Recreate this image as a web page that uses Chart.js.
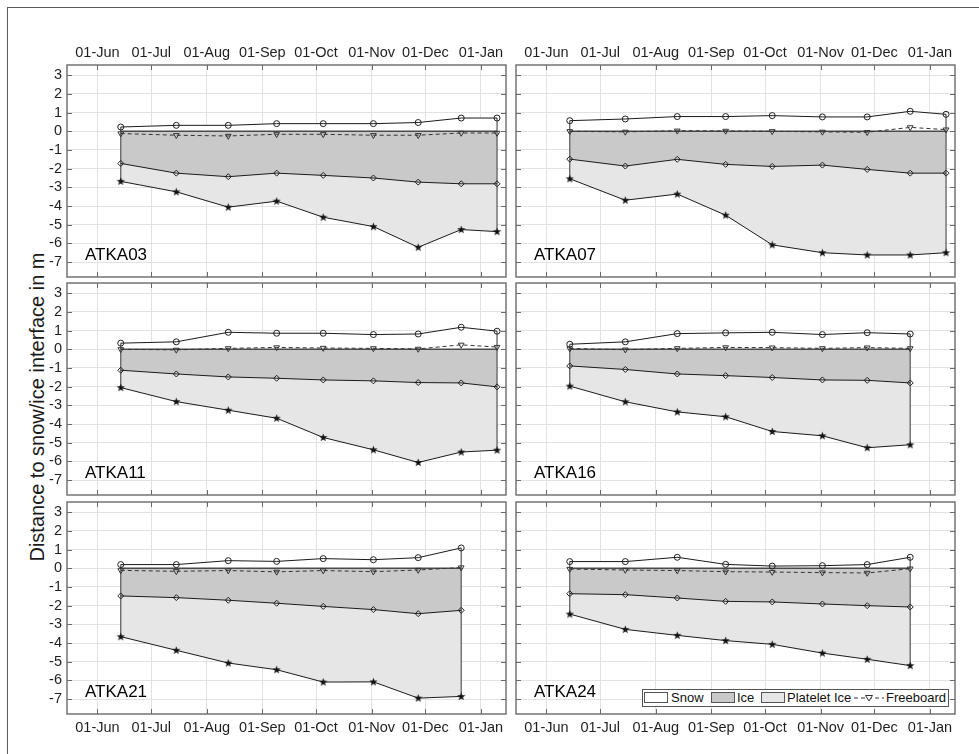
<!DOCTYPE html>
<html>
<head>
<meta charset="utf-8">
<script src="https://cdn.jsdelivr.net/npm/chart.js@4.4.0/dist/chart.umd.min.js"></script>
<style>
  body{margin:0;background:#fff;width:979px;height:754px;overflow:hidden;position:relative;
       font-family:'Liberation Sans',Arial,Helvetica,sans-serif;color:#1a1a1a;}
  canvas{position:absolute;}
  #frame{position:absolute;left:7px;top:7px;width:1000px;height:800px;border:1px solid #5a5a5a;box-sizing:border-box;}
  #ytitle{position:absolute;left:37px;top:407px;transform:translate(-50%,-50%) rotate(-90deg);
          font-size:20px;white-space:nowrap;color:#1a1a1a;}
  #legend{position:absolute;left:642px;top:689px;width:307px;height:18px;border:1px solid #555;
          background:#fff;box-sizing:border-box;z-index:5;font-size:13px;}
  #legend .sw{position:absolute;top:2px;width:24px;height:11px;border:1px solid #555;box-sizing:border-box;}
  #legend .tx{position:absolute;top:0;line-height:16px;white-space:nowrap;color:#111;}
  #legend svg{position:absolute;top:0;}
</style>
</head>
<body>
<div id="frame"></div>
<div id="ytitle">Distance to snow/ice interface in m</div>
<div id="legend">
  <div class="sw" style="left:1px;background:#fff"></div><div class="tx" style="left:28px">Snow</div>
  <div class="sw" style="left:68px;background:#c9c9c9"></div><div class="tx" style="left:94px">Ice</div>
  <div class="sw" style="left:118px;background:#e6e6e6"></div><div class="tx" style="left:144px">Platelet Ice</div>
  <svg style="left:210px" width="32" height="16" viewBox="0 0 32 16">
    <line x1="1" y1="8" x2="31" y2="8" stroke="#333" stroke-width="1" stroke-dasharray="4,3"/>
    <polygon points="12.5,5.5 19.5,5.5 16,11" fill="#fff" stroke="#333" stroke-width="1"/>
  </svg>
  <div class="tx" style="left:243px">Freeboard</div>
</div>
<script>
// ---------------- data ----------------
const obsDates = ['2012-06-14','2012-07-15','2012-08-13','2012-09-09','2012-10-05',
                  '2012-11-02','2012-11-27','2012-12-21','2013-01-10'];
const tickDates  = ['2012-06-01','2012-07-01','2012-08-01','2012-09-01','2012-10-01','2012-11-01','2012-12-01','2013-01-01'];
const tickLabels = ['01-Jun','01-Jul','01-Aug','01-Sep','01-Oct','01-Nov','01-Dec','01-Jan'];
const yTicks = [-7,-6,-5,-4,-3,-2,-1,0,1,2,3];
const axisStart = '2012-05-15', axisEnd = '2013-01-15';
const yMin = -7.8, yMax = 3.55;

const panelNames = ['ATKA03','ATKA07','ATKA11','ATKA16','ATKA21','ATKA24'];

const snow03 = [0.23,0.32,0.32,0.41,0.41,0.41,0.47,0.71,0.71];
const fb03   = [-0.12,-0.21,-0.25,-0.16,-0.16,-0.21,-0.21,-0.09,-0.09];
const ice03  = [-1.72,-2.24,-2.43,-2.24,-2.36,-2.50,-2.72,-2.81,-2.81];
const plat03 = [-2.68,-3.24,-4.06,-3.74,-4.60,-5.10,-6.21,-5.26,-5.37];

const snow07 = [0.57,0.66,0.79,0.79,0.84,0.77,0.77,1.07,0.91];
const fb07   = [0.00,-0.03,0.03,0.02,0.00,-0.03,-0.05,0.21,0.09];
const ice07  = [-1.49,-1.86,-1.50,-1.77,-1.88,-1.81,-2.04,-2.24,-2.24];
const plat07 = [-2.54,-3.69,-3.36,-4.49,-6.08,-6.50,-6.62,-6.62,-6.50];

const snow11 = [0.33,0.40,0.91,0.86,0.86,0.79,0.82,1.18,0.97];
const fb11   = [0.00,-0.03,0.05,0.10,0.07,0.05,0.02,0.24,0.12];
const ice11  = [-1.12,-1.32,-1.48,-1.55,-1.64,-1.69,-1.78,-1.80,-2.01];
const plat11 = [-2.05,-2.80,-3.26,-3.69,-4.72,-5.38,-6.06,-5.50,-5.40];

const snow16 = [0.27,0.40,0.84,0.88,0.91,0.79,0.89,0.82];
const fb16   = [0.04,-0.02,0.05,0.10,0.09,0.05,0.09,0.05];
const ice16  = [-0.89,-1.08,-1.32,-1.41,-1.51,-1.64,-1.66,-1.80];
const plat16 = [-1.97,-2.81,-3.35,-3.61,-4.40,-4.63,-5.27,-5.11];

const snow21 = [0.20,0.20,0.41,0.37,0.52,0.46,0.57,1.09];
const fb21   = [-0.11,-0.16,-0.12,-0.19,-0.12,-0.18,-0.09,0.04];
const ice21  = [-1.48,-1.57,-1.71,-1.87,-2.04,-2.21,-2.43,-2.25];
const plat21 = [-3.66,-4.39,-5.07,-5.43,-6.09,-6.08,-6.95,-6.86];

const snow24 = [0.36,0.36,0.59,0.21,0.12,0.14,0.20,0.59];
const fb24   = [-0.04,-0.09,-0.12,-0.18,-0.20,-0.23,-0.25,-0.02];
const ice24  = [-1.36,-1.41,-1.59,-1.77,-1.80,-1.91,-2.00,-2.07];
const plat24 = [-2.45,-3.27,-3.59,-3.87,-4.07,-4.54,-4.87,-5.21];

const panels = [
  {name: panelNames[0], snow: snow03, fb: fb03, ice: ice03, plat: plat03},
  {name: panelNames[1], snow: snow07, fb: fb07, ice: ice07, plat: plat07},
  {name: panelNames[2], snow: snow11, fb: fb11, ice: ice11, plat: plat11},
  {name: panelNames[3], snow: snow16, fb: fb16, ice: ice16, plat: plat16},
  {name: panelNames[4], snow: snow21, fb: fb21, ice: ice21, plat: plat21},
  {name: panelNames[5], snow: snow24, fb: fb24, ice: ice24, plat: plat24},
];

// ---------------- helpers ----------------
const ref = Date.parse('2012-06-01T00:00:00Z');
const dayOf = d => Math.round((Date.parse(d + 'T00:00:00Z') - ref) / 86400000);
const tickDays = tickDates.map(dayOf);

const FONT = "'Liberation Sans', Arial, Helvetica, sans-serif";
Chart.defaults.font.family = FONT;
Chart.defaults.font.size = 14.5;
Chart.defaults.color = '#1f1f1f';

// filled pentagram marker
const starImg = document.createElement('canvas');
starImg.width = 9; starImg.height = 9;
(function(){
  const c = starImg.getContext('2d');
  c.beginPath();
  for (let i = 0; i < 10; i++) {
    const r = i % 2 ? 1.8 : 4.3;
    const a = -Math.PI / 2 + i * Math.PI / 5;
    c.lineTo(4.5 + r * Math.cos(a), 4.7 + r * Math.sin(a));
  }
  c.closePath(); c.fillStyle = '#111'; c.fill();
})();

const deco = {
  id: 'deco',
  afterDraw(chart, args, opts) {
    const {ctx, chartArea: a, scales: {x, y}} = chart;
    ctx.save();
    ctx.strokeStyle = '#6a6a6a';
    ctx.lineWidth = 1;
    ctx.beginPath();
    x.ticks.forEach(t => {
      const px = Math.round(x.getPixelForValue(t.value)) + 0.5;
      ctx.moveTo(px, a.top); ctx.lineTo(px, a.top + 5);
      ctx.moveTo(px, a.bottom); ctx.lineTo(px, a.bottom - 5);
    });
    y.ticks.forEach(t => {
      const py = Math.round(y.getPixelForValue(t.value)) + 0.5;
      ctx.moveTo(a.left, py); ctx.lineTo(a.left + 5, py);
      ctx.moveTo(a.right, py); ctx.lineTo(a.right - 5, py);
    });
    ctx.stroke();
    ctx.lineWidth = 1.4;
    ctx.strokeStyle = '#6a6a6a';
    ctx.strokeRect(a.left, a.top, a.right - a.left, a.bottom - a.top);
    ctx.font = '17px ' + FONT;
    ctx.fillStyle = '#000';
    ctx.textBaseline = 'alphabetic';
    ctx.fillText(opts.label, a.left + 18, a.bottom - 17.5);
    ctx.restore();
  }
};

function makePanel(p, col, row) {
  const L = [67, 516][col], T = [65, 283, 502][row];
  const W = 439, H = 212, AX = 62, XH = 42, PR = 8;
  const cv = document.createElement('canvas');
  cv.width = W + AX + PR; cv.height = H + 2 * XH;
  cv.style.left = (L - AX) + 'px'; cv.style.top = (T - XH) + 'px';
  document.body.appendChild(cv);

  const n = p.snow.length;
  const xs = obsDates.slice(0, n).map(dayOf);
  const pts = arr => arr.map((v, i) => ({x: xs[i], y: v}));
  const base = {borderColor: '#1a1a1a', borderWidth: 1, fill: false, pointRadius: 0, tension: 0};
  const mk = (data, extra) => Object.assign({data}, base, extra || {});
  const fillDs = (data, fill, color) => ({data, fill, backgroundColor: color,
      borderColor: 'rgba(0,0,0,0)', borderWidth: 1, pointRadius: 0, tension: 0});

  const datasets = [
    mk(pts(p.snow), {pointStyle: 'circle', pointRadius: 3, pointBorderColor: '#222',
        pointBackgroundColor: 'rgba(0,0,0,0)', pointBorderWidth: 1}),
    mk(pts(p.fb), {borderColor: '#333', borderDash: [4, 3], pointStyle: 'triangle', pointRotation: 180,
        pointRadius: 3.3, pointBorderColor: '#333', pointBackgroundColor: 'rgba(0,0,0,0)', pointBorderWidth: 1}),
    mk(pts(p.ice), {pointStyle: 'rectRot', pointRadius: 3, pointBorderColor: '#222',
        pointBackgroundColor: 'rgba(0,0,0,0)', pointBorderWidth: 1}),
    mk(pts(p.plat), {pointStyle: starImg, pointRadius: 4}),
    mk([{x: xs[0], y: p.snow[0]}, {x: xs[0], y: p.plat[0]}], {borderColor: '#555', borderWidth: 1.2}),
    mk([{x: xs[n-1], y: p.snow[n-1]}, {x: xs[n-1], y: p.plat[n-1]}], {borderColor: '#555', borderWidth: 1.2}),
    mk([{x: xs[0], y: 0}, {x: xs[n-1], y: 0}], {borderColor: '#4a4a4a', borderWidth: 1.6}),
    fillDs(pts(p.snow), 'origin', '#ffffff'),
    fillDs(pts(p.ice), 'origin', '#c9c9c9'),
    fillDs(pts(p.plat), '-1', '#e6e6e6'),
  ];

  const xTop = row === 0;
  new Chart(cv, {
    type: 'line',
    data: {datasets},
    plugins: [deco],
    options: {
      responsive: false, animation: false, devicePixelRatio: 1,
      layout: {padding: {left: 0, right: PR, top: xTop ? 0 : XH, bottom: xTop ? XH : 0}},
      plugins: {legend: {display: false}, tooltip: {enabled: false}, deco: {label: p.name}},
      elements: {line: {borderCapStyle: 'butt'}},
      scales: {
        x: {
          type: 'linear', position: xTop ? 'top' : 'bottom',
          min: dayOf(axisStart), max: dayOf(axisEnd),
          afterBuildTicks: s => { s.ticks = tickDays.map(v => ({value: v})); },
          afterFit: s => { s.height = XH; },
          grid: {color: '#e2e2e2', lineWidth: 1, drawTicks: false},
          border: {display: false},
          ticks: {display: row !== 1, padding: xTop ? 3 : 5, maxRotation: 0, autoSkip: false,
                  font: {size: 14.5}, color: '#1f1f1f',
                  callback: v => tickLabels[tickDays.indexOf(v)]}
        },
        y: {
          type: 'linear', position: 'left', min: yMin, max: yMax,
          afterBuildTicks: s => { s.ticks = yTicks.map(v => ({value: v})); },
          afterFit: s => { s.width = AX; },
          grid: {color: '#e2e2e2', lineWidth: 1, drawTicks: false},
          border: {display: false},
          ticks: {display: col === 0, padding: 5, font: {size: 14.5}, color: '#1f1f1f',
                  callback: v => String(v)}
        }
      }
    }
  });
}

panels.forEach((p, i) => makePanel(p, i % 2, Math.floor(i / 2)));
</script>
</body>
</html>
